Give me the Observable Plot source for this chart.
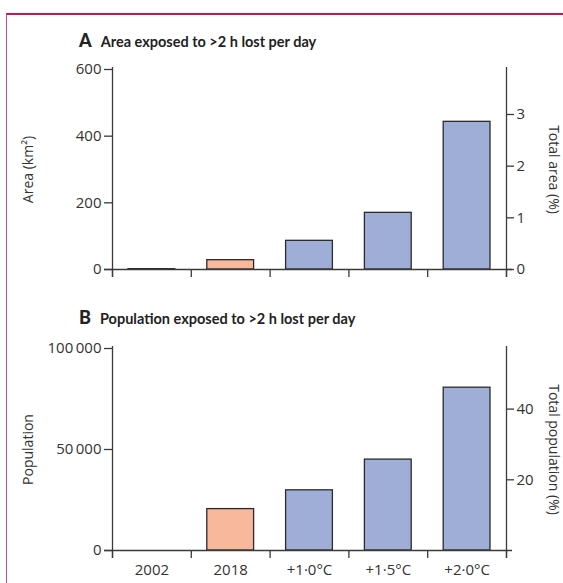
<!DOCTYPE html>
<html><head><meta charset="utf-8">
<script src="https://cdn.jsdelivr.net/npm/d3@7"></script>
<script src="https://cdn.jsdelivr.net/npm/@observablehq/plot@0.6"></script>
<style>
body{margin:0;background:#fff;}
#wrap{position:relative;width:563px;height:583px;overflow:hidden;font-family:"Open Sans",sans-serif;}
#frame{position:absolute;left:6px;top:13px;right:-4px;bottom:-4px;border-top:2px solid #c8174a;border-left:1px solid #d9467a;}
.title{position:absolute;left:79px;font-family:Lato,sans-serif;font-weight:700;font-size:14.5px;color:#222;white-space:nowrap;line-height:20px;}
.title b{font-size:18px;margin-right:9px;}
.panel{position:absolute;left:0;}
</style></head><body>
<div id="wrap"><div id="frame"></div>
<div class="title" style="top:30px"><b>A</b>Area exposed to &gt;2 h lost per day</div>
<div class="panel" id="pA" style="top:55px"></div>
<div class="title" style="top:307px"><b>B</b>Population exposed to &gt;2 h lost per day</div>
<div class="panel" id="pB" style="top:330px"></div>
</div>
<script>
const categories = ["2002", "2018", "+1·0°C", "+1·5°C", "+2·0°C"];
const periods = ["observed", "observed", "projected", "projected", "projected"];
const areaKm2 = [1, 28, 86, 170, 443];
const population = [0, 20500, 29800, 45000, 80600];
const areaTicks = [0, 200, 400, 600];
const areaPctTicks = [0, 1, 2, 3];
const popTicks = [0, 50000, 100000];
const popPctTicks = [20, 40];
const totalAreaKm2 = 15500;     // 1 % of total area ≈ 155 km²
const totalPopulation = 175000; // 1 % of total population ≈ 1750 people
const periodColors = ["#f8b89b", "#9eaed6"];

const ink = "#3a3a3a";
const textInk = "#333";
const fs = 14;      // axis titles
const tfs = 15;     // tick labels
const fmtThin = d => d3.format(",d")(d).replace(/,/g, "\u2009");

function panel({values, yDomain, yTicks, yLabel, rTicks, rTotal, rLabel, height, marginTop, marginBottom, xLabels}) {
  const rows = categories.map((c, i) => ({cat: c, i, v: values[i], period: periods[i]}));
  const rFactor = rTotal / 100;
  const marks = [
    Plot.rectY(rows.filter(d => d.v > 0), {x1: d => d.i, x2: d => d.i + 1, y1: 0, y2: "v", fill: "period",
      stroke: "#2b2b2b", strokeWidth: 1.3, insetLeft: 16, insetRight: 16}),
    Plot.ruleX([0, 5], {stroke: ink, strokeWidth: 1.3, insetTop: -2, insetBottom: -8}),
    Plot.ruleY([0], {stroke: ink, strokeWidth: 1.3, insetLeft: -8, insetRight: -6}),
    Plot.axisX([0, 1, 2, 3, 4, 5], {tickSize: 8, tickFormat: () => "", label: null, stroke: ink, strokeWidth: 1.3}),
    Plot.axisY(yTicks, {anchor: "left", tickSize: 8, tickPadding: 3, tickFormat: fmtThin, label: null,
      stroke: ink, strokeWidth: 1.3, fontSize: tfs, color: textInk}),
    Plot.text([yLabel], {text: d => d, frameAnchor: "left", dx: -84, rotate: -90, textAnchor: "middle",
      lineAnchor: "middle", fontSize: fs, fill: textInk}),
    Plot.axisY(rTicks.map(t => t * rFactor), {anchor: "right", tickSize: 7, tickPadding: 3,
      tickFormat: d => String(Math.round(d / rFactor)), label: null,
      stroke: ink, strokeWidth: 1.3, fontSize: tfs, color: textInk}),
    Plot.text([rLabel], {text: d => d, frameAnchor: "right", dx: 47, rotate: 90, textAnchor: "middle",
      lineAnchor: "middle", fontSize: fs, fill: textInk})
  ];
  if (xLabels) marks.push(Plot.axisX(categories.map((c, i) => i + 0.5), {tickSize: 0, tickPadding: 14,
    tickFormat: d => categories[Math.floor(d)], label: null, fontSize: tfs, color: textInk}));
  return Plot.plot({
    width: 563, height, marginLeft: 112, marginRight: 57, marginTop, marginBottom,
    style: {fontFamily: "'Open Sans', sans-serif", fontSize: fs + "px", color: textInk, background: "transparent", overflow: "visible"},
    x: {domain: [0, 5]},
    y: {domain: yDomain},
    color: {domain: ["observed", "projected"], range: periodColors},
    marks
  });
}

document.getElementById("pA").appendChild(panel({
  values: areaKm2, yDomain: [0, 600], yTicks: areaTicks, yLabel: "Area (km²)",
  rTicks: areaPctTicks, rTotal: totalAreaKm2, rLabel: "Total area (%)",
  height: 230, marginTop: 14, marginBottom: 16, xLabels: false
}));
document.getElementById("pB").appendChild(panel({
  values: population, yDomain: [0, 100000], yTicks: popTicks, yLabel: "Population",
  rTicks: popPctTicks, rTotal: totalPopulation, rLabel: "Total population (%)",
  height: 253, marginTop: 18, marginBottom: 33, xLabels: true
}));
</script>
</body></html>
